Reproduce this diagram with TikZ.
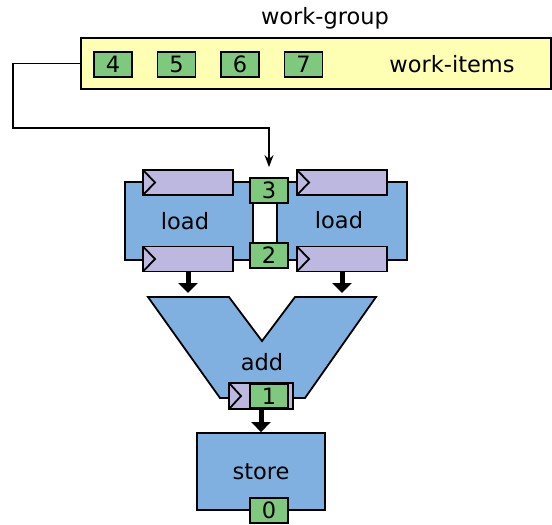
\documentclass[tikz,border=0pt]{standalone}
\usepackage{fontspec}
\setmainfont{DejaVu Sans}
\usepackage{tikz}
\usetikzlibrary{arrows.meta}
\definecolor{unitblue}{HTML}{7FB0DF}
\definecolor{regpurple}{HTML}{BDB8DF}
\definecolor{itemgreen}{HTML}{7FC97F}
\definecolor{groupyellow}{HTML}{FFFFB3}
\tikzset{
  unit/.style={draw, fill=unitblue, inner sep=0pt},
  item/.style={draw, fill=itemgreen, minimum width=38pt, minimum height=25pt, inner sep=0pt},
  reg/.style={draw, fill=regpurple, minimum height=25pt, inner sep=0pt,
    path picture={\draw (path picture bounding box.north west)
      -- ([xshift=12pt]path picture bounding box.west)
      -- (path picture bounding box.south west);}},
  bigarrow/.style={-{Triangle[width=19pt,length=10pt]}, line width=5pt}
}

\begin{document}
\begin{tikzpicture}[x=1pt, y=-1pt, line width=1.8pt, font=\fontsize{22.5}{27}\selectfont]
    \useasboundingbox (0,0) rectangle (552,525);

    % Work-group
    \node (wglabel) at (325,18) {work-group};
    \node[draw, fill=groupyellow, minimum width=470pt, minimum height=51pt] (wg) at (316,63.5) {};
    \foreach \i [count=\k from 0] in {4,...,7}
        \node[item] (item\i) at (113+63.5*\k,64.5) {\i};
    \node (wilabel) at (452,64) {work-items};

    % Load units
    \node[unit, minimum width=128pt, minimum height=78pt] (loadL) at (189,221) {};
    \node[unit, minimum width=130pt, minimum height=78pt] (loadR) at (342,221) {};
    \node (loadLlabel) at (185,221) {load};
    \node (loadRlabel) at (339,220) {load};
    \node[reg, minimum width=90pt] (regLa) at (188,182.5) {};
    \node[reg, minimum width=90pt] (regLb) at (188,259) {};
    \node[reg, minimum width=90pt] (regRa) at (342,182.5) {};
    \node[reg, minimum width=90pt] (regRb) at (342,259) {};
    \node[item] (item3) at (269,190.5) {3};
    \node[item] (item2) at (269,255.5) {2};

    % Work-group to first work-item
    \coordinate (bend) at (13,128);
    \coordinate (tip) at ([yshift=10pt]item3.north);
    \draw[-{Stealth[length=12pt,width=9pt]}, line width=1.5pt] (wg.west) -| (bend) -| (tip);

    % Add unit
    \filldraw[fill=unitblue] (148,297) -- (229,297) -- (262,341) -- (295,297)
        -- (376,297) -- (305,398) -- (220,398) -- cycle;
    \coordinate (addL) at (188,293);
    \coordinate (addR) at (342,293);
    \draw[bigarrow] (regLb.south) -- (addL);
    \draw[bigarrow] (regRb.south) -- (addR);
    \node (addlabel) at (262,362) {add};
    \node[reg, minimum width=64pt, minimum height=26pt] (regadd) at (261,396) {};
    \node[item, minimum height=24pt] (item1) at (269,396) {1};

    % Store unit
    \node[unit, minimum width=128pt, minimum height=77pt] (store) at (261,471.5) {};
    \node (storelabel) at (261,472) {store};
    \node[item] (item0) at (269,510.5) {0};
    \draw[bigarrow] (regadd.south) -- (store.north);
\end{tikzpicture}
\end{document}
